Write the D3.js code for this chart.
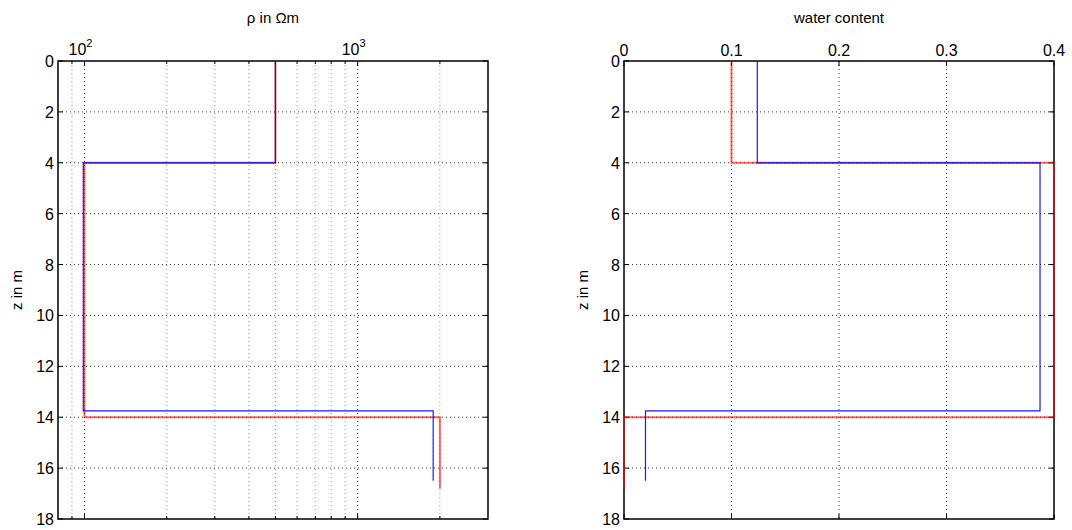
<!DOCTYPE html>
<html>
<head>
<meta charset="utf-8">
<script src="https://cdn.jsdelivr.net/npm/d3@7"></script>
<style>
  body { margin: 0; background: #fff; }
  text { font-family: "Liberation Sans", Arial, sans-serif; fill: #000; }
</style>
</head>
<body>
<div id="chart-container"></div>
<script>
// Layer boundaries (depth in m) and layer values
const depthTrue = [0, 4, 14, 16.8];
const depthEst = [0, 4, 13.75, 16.5];
const rhoTrue = [500, 100, 2000];
const rhoEst = [500, 99, 1890];
const wcTrue = [0.1, 0.4, 0.0];
const wcEst = [0.124, 0.387, 0.02];

// Axis ticks
const zTicks = [0, 2, 4, 6, 8, 10, 12, 14, 16, 18];
const rhoMajor = [100, 1000];
const rhoMinor = [90, 200, 300, 400, 500, 600, 700, 800, 900, 2000];
const wcTicks = [0, 0.1, 0.2, 0.3, 0.4];

const width = 1072, height = 530;
const plotTop = 61, plotBottom = 519;

// turn layer values into a step profile
function profile(depths, values) {
    const pts = [];
    values.forEach((v, i) => {
        pts.push({ v: v, z: depths[i] });
        pts.push({ v: v, z: depths[i + 1] });
    });
    return pts;
}

function init() {
    const svg = d3.select("#chart-container")
        .append("svg")
        .attr("width", width)
        .attr("height", height);

    const yScale = d3.scaleLinear().domain([0, 18]).range([plotTop, plotBottom]);

    function panel(x0, x1, xScale, majorX, minorX, title, fmt, trueVals, estVals) {
        const g = svg.append("g");

        // grid
        const gridColor = "#333";
        g.selectAll("line.gx")
            .data(majorX.concat(minorX).filter(d => xScale(d) > x0 + 1 && xScale(d) < x1 - 1))
            .enter().append("line")
            .attr("x1", d => xScale(d)).attr("x2", d => xScale(d))
            .attr("y1", plotTop).attr("y2", plotBottom)
            .attr("stroke", d => majorX.includes(d) ? gridColor : "#999")
            .attr("stroke-width", 1)
            .attr("stroke-dasharray", "1,3");
        g.selectAll("line.gy")
            .data(zTicks.filter(d => d > 0 && d < 18))
            .enter().append("line")
            .attr("x1", x0).attr("x2", x1)
            .attr("y1", d => yScale(d)).attr("y2", d => yScale(d))
            .attr("stroke", gridColor)
            .attr("stroke-dasharray", "1,3");

        // ticks (inward, top and bottom / left and right)
        const tickData = majorX.concat(minorX);
        g.selectAll("line.tx")
            .data(tickData)
            .enter().append("line")
            .attr("x1", d => xScale(d)).attr("x2", d => xScale(d))
            .attr("y1", plotBottom).attr("y2", d => plotBottom - (majorX.includes(d) ? 5 : 3))
            .attr("stroke", "#000");
        g.selectAll("line.tx2")
            .data(tickData)
            .enter().append("line")
            .attr("x1", d => xScale(d)).attr("x2", d => xScale(d))
            .attr("y1", plotTop).attr("y2", d => plotTop + (majorX.includes(d) ? 5 : 3))
            .attr("stroke", "#000");
        g.selectAll("line.ty")
            .data(zTicks)
            .enter().append("line")
            .attr("x1", x0).attr("x2", x0 + 5)
            .attr("y1", d => yScale(d)).attr("y2", d => yScale(d))
            .attr("stroke", "#000");
        g.selectAll("line.ty2")
            .data(zTicks)
            .enter().append("line")
            .attr("x1", x1).attr("x2", x1 - 5)
            .attr("y1", d => yScale(d)).attr("y2", d => yScale(d))
            .attr("stroke", "#000");

        // box
        g.append("rect")
            .attr("x", x0).attr("y", plotTop)
            .attr("width", x1 - x0).attr("height", plotBottom - plotTop)
            .attr("fill", "none")
            .attr("stroke", "#000")
            .attr("stroke-width", 1.5);

        // lines (drawn over the box, as in the original)
        const line = d3.line().x(d => xScale(d.v)).y(d => yScale(d.z));
        g.append("path")
            .datum(profile(depthTrue, trueVals))
            .attr("d", line)
            .attr("fill", "none")
            .attr("stroke", "#ff0000")
            .attr("stroke-opacity", 0.6)
            .attr("stroke-width", 2);
        g.append("path")
            .datum(profile(depthEst, estVals))
            .attr("d", line)
            .attr("fill", "none")
            .attr("stroke", "#0000ff")
            .attr("stroke-opacity", 0.9)
            .attr("stroke-width", 1.2);

        // y tick labels
        g.selectAll("text.yl")
            .data(zTicks)
            .enter().append("text")
            .attr("x", x0 - 4)
            .attr("y", d => yScale(d) + 6)
            .attr("text-anchor", "end")
            .style("font-size", "16px")
            .text(d => d);

        // x tick labels on top
        fmt(g);

        // titles
        g.append("text")
            .attr("x", (x0 + x1) / 2)
            .attr("y", 23)
            .attr("text-anchor", "middle")
            .style("font-size", "15px")
            .text(title);
        g.append("text")
            .attr("transform", `translate(${x0 - 36},${(plotTop + plotBottom) / 2}) rotate(-90)`)
            .attr("text-anchor", "middle")
            .style("font-size", "15px")
            .text("z in m");
    }

    // left: resistivity (log)
    const lx0 = 58, lx1 = 488;
    const xRho = d3.scaleLog().domain([80, 3000]).range([lx0, lx1]);
    panel(lx0, lx1, xRho, rhoMajor, rhoMinor, "\u03c1 in \u03a9m", g => {
        const t = g.selectAll("text.xl")
            .data(rhoMajor)
            .enter().append("text")
            .attr("x", d => xRho(d) - 4)
            .attr("y", 55)
            .attr("text-anchor", "middle")
            .style("font-size", "16px");
        t.append("tspan").text("10");
        t.append("tspan")
            .attr("dy", -8)
            .style("font-size", "11px")
            .text(d => Math.round(Math.log10(d)));
    }, rhoTrue, rhoEst);

    // right: water content
    const rx0 = 624, rx1 = 1054;
    const xWc = d3.scaleLinear().domain([0, 0.4]).range([rx0, rx1]);
    panel(rx0, rx1, xWc, wcTicks, [], "water content", g => {
        g.selectAll("text.xl")
            .data(wcTicks)
            .enter().append("text")
            .attr("x", d => xWc(d))
            .attr("y", 56)
            .attr("text-anchor", "middle")
            .style("font-size", "16px")
            .text(d => d);
    }, wcTrue, wcEst);
}

window.onload = init;
</script>
</body>
</html>
